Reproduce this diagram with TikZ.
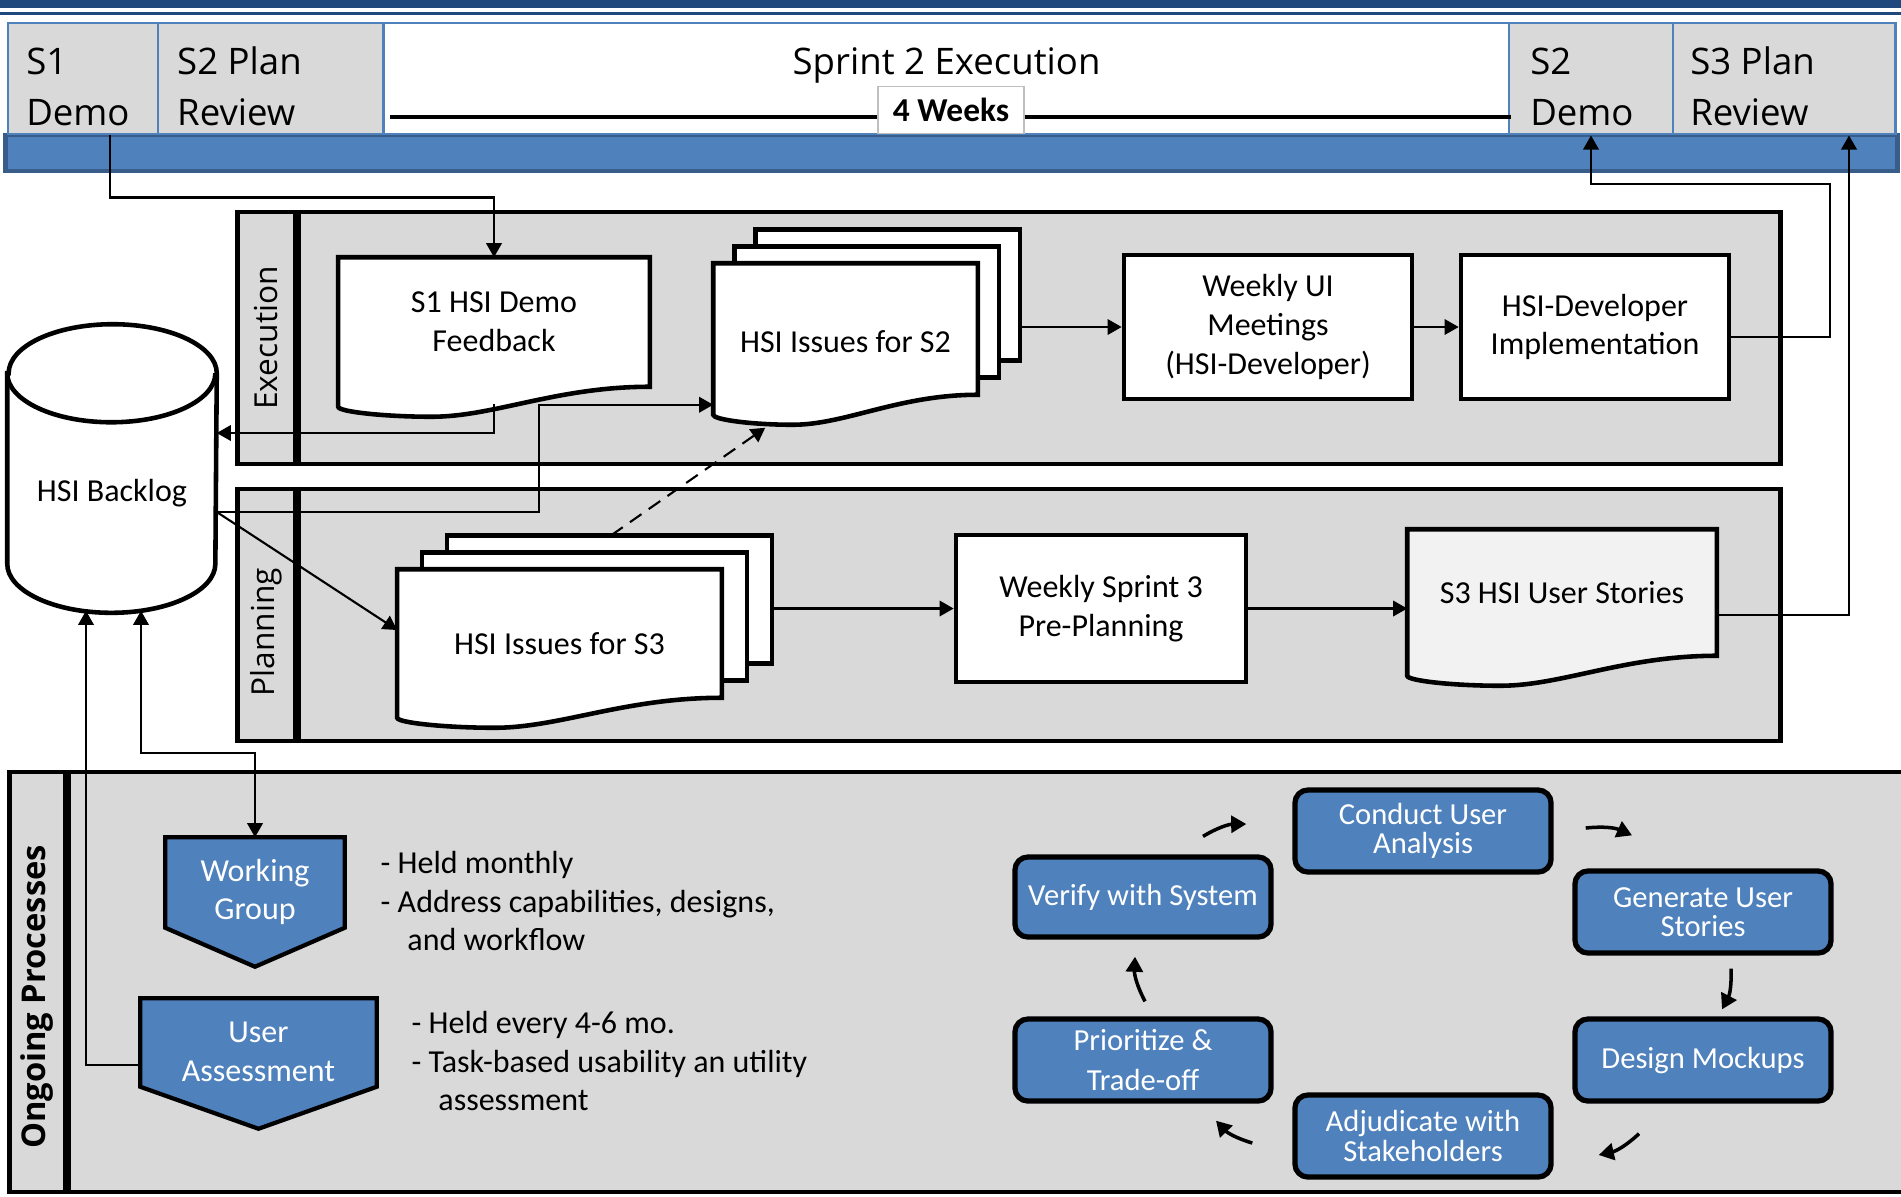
\documentclass[tikz,border=0pt]{standalone}
\usepackage{fontspec}
\setmainfont{Carlito}
\newfontfamily\segoe{Open Sans}
\usepackage{tikz}
\usetikzlibrary{arrows.meta, positioning, calc}
\definecolor{mBlue}{HTML}{4F81BD}
\definecolor{mNavy}{HTML}{1F497D}
\definecolor{mEdge}{HTML}{385D8A}
\definecolor{mGray}{HTML}{D9D9D9}
\definecolor{mPale}{HTML}{F2F2F2}
\pgfdeclarelayer{lanes}
\pgfdeclarelayer{shapes}
\pgfsetlayers{lanes,shapes,main}

\newcommand\wavedoc[3][white]{%
  \path ([shift={(0,#3)}]#2.south east) coordinate (#2-r)
        ([shift={(0,#3)}]#2.south west) coordinate (#2-l);
  \begin{pgfonlayer}{shapes}
    \draw[docline, fill=#1] (#2.north west) -- (#2.north east) -- (#2-r)
      .. controls ($(#2-r)!0.3!(#2-l)$) and ($(#2-r)!0.5!(#2-l)+(0,30)$) .. ($(#2-r)!0.7!(#2-l)+(0,30)$)
      .. controls ($(#2-r)!0.85!(#2-l)+(0,30)$) and ($(#2-l)+(0,25)$) .. ($(#2-l)+(0,20)$) -- cycle;
  \end{pgfonlayer}}
\newcommand\stackdoc[4]{%
  \path ([shift={({2*#3},{-2*#4})}]#1.north east) coordinate (#1-bk);
  \begin{pgfonlayer}{shapes}
    \foreach \k in {2,1}
      \draw[docline, fill=white] ([shift={({\k*#3},{-\k*#4})}]#1.north west) rectangle ([shift={({\k*#3},{#2-\k*#4})}]#1.south east);
  \end{pgfonlayer}
  \wavedoc{#1}{#2}}
\newcommand\offpage[3]{%
  \begin{pgfonlayer}{shapes}
    \draw[line width=1.2pt, fill=mBlue] (#1.north west) -- (#1.north east) -- ([shift={(0,-#2)}]#1.south east)
      -- ([shift={(0,#3)}]#1.south) -- ([shift={(0,-#2)}]#1.south west) -- cycle;
  \end{pgfonlayer}}

\begin{document}
\begin{tikzpicture}[x=0.01cm, y=-0.01cm,
    txt/.style={font=\fontsize{9.1}{11}\selectfont, align=center},
    box/.style={txt, draw, line width=1.3pt, fill=white, inner sep=0pt},
    doc/.style={txt, inner sep=0pt},
    docline/.style={draw, line width=1.3pt},
    hdrcell/.style={draw=mBlue, line width=0.8pt, fill=mGray, minimum height=1.11cm, inner sep=0pt},
    hdrtxt/.style={font=\segoe\fontsize{10.4}{14.5}\selectfont, align=left, anchor=west, inner sep=0pt},
    lane/.style={draw, fill=mGray, line width=1.3pt, inner sep=0pt},
    lanetxt/.style={font=\segoe\fontsize{9}{11}\selectfont, rotate=90},
    cycbox/.style={draw, line width=1.5pt, fill=mBlue, text=white, rounded corners=0.13cm, minimum width=2.56cm, minimum height=0.82cm, inner sep=0pt, align=center, font=\fontsize{8.7}{8.3}\selectfont},
    conn/.style={-{Triangle[length=4pt,width=4.4pt]}, line width=0.6pt},
    conn2/.style={conn, {Triangle[length=4pt,width=4.4pt]}-{Triangle[length=4pt,width=4.4pt]}},
    cycarrow/.style={-{Triangle[length=4.3pt,width=4.8pt]}, line width=1pt, bend left=15},
  ]
  \useasboundingbox (0,0) rectangle (1901,1196);
  \fill[mNavy] (0,0) rectangle (1901,8);
  \fill[mNavy] (0,12) rectangle (1901,15);

  \node[draw=mEdge, line width=1.2pt, fill=mBlue, minimum width=18.91cm, minimum height=0.36cm] (bar) at (951.5,153) {};
  \node[hdrcell, minimum width=1.50cm] (s1cell) at (83,78.5) {};
  \node[hdrcell, minimum width=2.26cm] (s2plan) at (271,78.5) {};
  \node[hdrcell, minimum width=11.25cm, fill=white] (sprint) at (946.5,78.5) {};
  \node[hdrcell, minimum width=1.64cm] (s2cell) at (1591,78.5) {};
  \node[hdrcell, minimum width=2.22cm] (s3cell) at (1784,78.5) {};
  \node[hdrtxt] (s1txt) at ([shift={(19,8)}]s1cell.west) {S1\\Demo};
  \node[hdrtxt] (s2plantxt) at ([shift={(20,8)}]s2plan.west) {S2 Plan\\Review};
  \node[hdrtxt] (s2txt) at ([shift={(22,8)}]s2cell.west) {S2\\Demo};
  \node[hdrtxt] (s3txt) at ([shift={(18,8)}]s3cell.west) {S3 Plan\\Review};
  \node[font=\segoe\fontsize{10.4}{12}\selectfont] (sprinttxt) at ([shift={(0,-13.5)}]sprint.center) {Sprint 2 Execution};
  \node[draw=black!25, fill=white, line width=0.5pt, minimum width=1.46cm, minimum height=0.42cm, font=\bfseries\fontsize{9.5}{11}\selectfont] (weeks) at (951,110) {4 Weeks};
  \coordinate (wl) at ([shift={(0,7)}]weeks.west);
  \coordinate (wr) at ([shift={(0,7)}]weeks.east);
  \draw[line width=0.9pt, shorten >=0.08cm] (wl) -- (wl -| sprint.west);
  \draw[line width=0.9pt] (wr) -- (wr -| sprint.east);

  \begin{pgfonlayer}{lanes}
    \node[lane, minimum width=15.42cm, minimum height=2.52cm] (exec) at (1009,338) {};
    \node[lane, minimum width=15.42cm, minimum height=2.52cm] (plan) at (1009,615) {};
    \node[lane, minimum width=19.00cm, minimum height=4.20cm] (ongoing) at (960,982) {};
    \draw[line width=2.3pt] ([shift={(62,0)}]exec.north west) -- ([shift={(62,0)}]exec.south west);
    \draw[line width=2.3pt] ([shift={(62,0)}]plan.north west) -- ([shift={(62,0)}]plan.south west);
    \draw[line width=2.3pt] ([shift={(60,0)}]ongoing.north west) -- ([shift={(60,0)}]ongoing.south west);
  \end{pgfonlayer}
  \node[lanetxt] (exectxt) at ([shift={(31,0)}]exec.west) {Execution};
  \node[lanetxt] (plantxt) at ([shift={(31,17)}]plan.west) {Planning};
  \node[lanetxt, font=\segoe\bfseries\fontsize{9.3}{11}\selectfont] (ongoingtxt) at ([shift={(30,15)}]ongoing.west) {Ongoing Processes};

  \node[doc, minimum width=2.08cm, minimum height=2.38cm] (backlog) at (112,493) {HSI Backlog};
  \begin{pgfonlayer}{shapes}
    \draw[docline, fill=white] (backlog.north west) -- ([shift={(0,-49)}]backlog.south west)
      arc[start angle=180, end angle=360, x radius=1.04cm, y radius=0.49cm] -- (backlog.north east)
      arc[start angle=0, end angle=180, x radius=1.04cm, y radius=0.49cm] -- cycle;
    \draw[docline] (backlog.north west) arc[start angle=180, end angle=360, x radius=1.04cm, y radius=0.49cm];
  \end{pgfonlayer}

  \node[doc, minimum width=3.10cm, minimum height=1.28cm] (feedback) at (494,322) {S1 HSI Demo\\Feedback};
  \wavedoc{feedback}{0}
  \node[doc, minimum width=2.63cm, minimum height=1.56cm] (issues2) at (845.5,342) {HSI Issues for S2};
  \stackdoc{issues2}{-26}{21}{17}
  \node[box, minimum width=2.88cm, minimum height=1.44cm] (weeklyui) at (1268,327) {Weekly UI\\Meetings\\(HSI-Developer)};
  \node[box, minimum width=2.68cm, minimum height=1.44cm] (hsidev) at (1595,327) {HSI-Developer\\Implementation};

  \node[doc, minimum width=3.23cm, minimum height=1.48cm] (issues3) at (559.5,644) {HSI Issues for S3};
  \stackdoc{issues3}{-21}{25}{17}
  \node[box, minimum width=2.90cm, minimum height=1.47cm] (weeksp) at (1101,608.5) {Weekly Sprint 3\\Pre-Planning};
  \node[doc, minimum width=3.08cm, minimum height=1.26cm] (s3stories) at (1562,593) {S3 HSI User Stories};
  \wavedoc[mPale]{s3stories}{-1}

  \node[txt, text=white, minimum width=1.78cm, minimum height=1.08cm, inner sep=0pt] (wg) at (255,892) {Working\\Group};
  \offpage{wg}{19}{20}
  \node[txt, text=white, minimum width=2.35cm, minimum height=1.06cm, inner sep=0pt] (ua) at (258.5,1052) {User\\Assessment};
  \offpage{ua}{19}{23}
  \node[txt, align=left, anchor=west, inner sep=0pt] (wgnotes) at (380,901) {- Held monthly\\- Address capabilities, designs,\\\hspace*{7.6pt}and workflow};
  \node[txt, align=left, anchor=west, inner sep=0pt] (uanotes) at (411,1061) {- Held every 4-6 mo.\\- Task-based usability an utility\\\hspace*{7.6pt}assessment};

  \node[cycbox] (conduct) at (1423,831) {Conduct User\\Analysis};
  \node[cycbox] (generate) at (1703,912) {Generate User\\Stories};
  \node[cycbox] (design) at (1703,1060) {Design Mockups};
  \node[cycbox] (adjud) at (1423,1136) {Adjudicate with\\Stakeholders};
  \node[cycbox, font=\fontsize{8.7}{11.5}\selectfont] (prior) at (1143,1060) {Prioritize \&\\Trade-off};
  \node[cycbox, minimum height=0.80cm] (verify) at (1143,897) {Verify with System};

  \draw[conn] ([shift={(27,0)}]s1cell.south) -- ++(0,62) -| (feedback.north);
  \draw[conn] ([shift={(0,17)}]feedback.south) |- ([shift={(0,-60)}]backlog.east);
  \draw[conn] ([shift={(0,19)}]backlog.east) -- ++(322,0) |- ([shift={(0,-16)}]issues2.south west);
  \draw[conn] ([shift={(0,19)}]backlog.east) -- ([shift={(0,-14)}]issues3.west);
  \draw[conn, dash pattern=on 4pt off 2.5pt] ([shift={(214,-34)}]issues3.north west) -- ([shift={(52,7)}]issues2.south west);
  \draw[conn] (issues2-bk |- weeklyui.west) -- (weeklyui.west);
  \draw[conn] (weeklyui) -- (hsidev);
  \draw[conn] ([shift={(0,10)}]hsidev.east) -- ++(99,0) -- ++(0,-153) -| (s2cell.south);
  \draw[conn] (issues3-bk |- weeksp.west) -- (weeksp.west);
  \draw[conn] (weeksp.east) -- (weeksp.east -| s3stories.west);
  \draw[conn] ([shift={(0,22)}]s3stories.east) -| ([shift={(65,0)}]s3cell.south);
  \draw[conn2] ([shift={(29,-2)}]backlog.south) -- ++(0,142) -| (wg.north);
  \draw[conn] ([shift={(0,13)}]ua.west) -| ([shift={(-26,-2)}]backlog.south);

  \draw[cycarrow] ([shift={(60,-18)}]verify.north) to ([shift={(-46,-7)}]conduct.west);
  \draw[cycarrow] ([shift={(32,-3)}]conduct.east) to ([shift={(-71,-33)}]generate.north);
  \draw[cycarrow] ([shift={(28,13)}]generate.south) to ([shift={(19,-7)}]design.north);
  \draw[cycarrow] ([shift={(-64,30)}]design.south) to ([shift={(45,19)}]adjud.east);
  \draw[cycarrow] ([shift={(-40,7)}]adjud.west) to ([shift={(73,17)}]prior.south);
  \draw[cycarrow] ([shift={(2,-15)}]prior.north) to ([shift={(-8,17)}]verify.south);
\end{tikzpicture}
\end{document}
